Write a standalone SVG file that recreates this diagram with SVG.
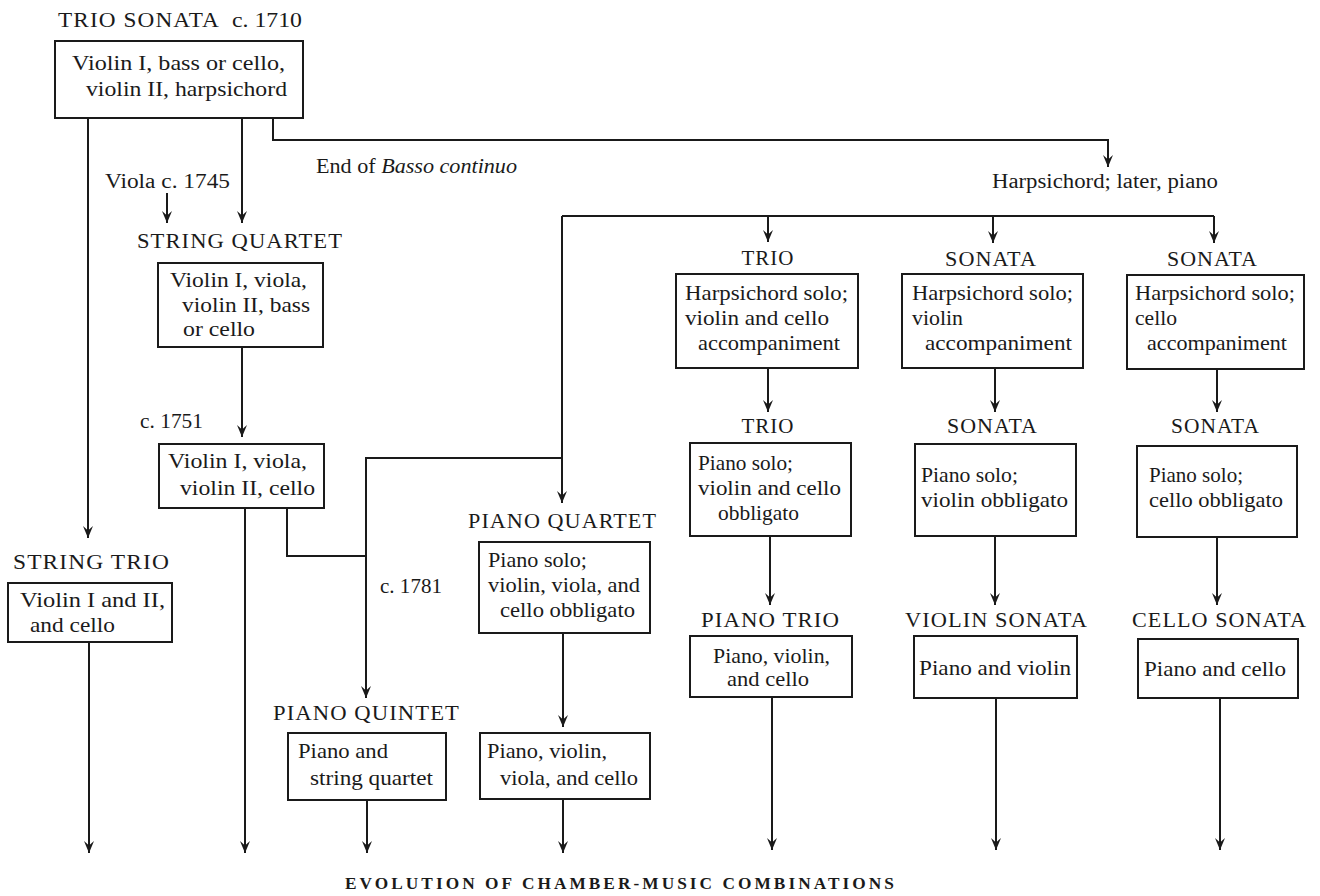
<svg xmlns="http://www.w3.org/2000/svg" width="1320" height="896" viewBox="0 0 1320 896">
<defs>
<marker id="arr" viewBox="0 0 13 11" refX="12" refY="5.5" markerWidth="13" markerHeight="11" markerUnits="userSpaceOnUse" orient="auto">
<path d="M0,0.5 L12,5.5 L0,10.5 L4.5,5.5 Z" fill="#1a1a1a"/>
</marker>
<style>
.bx{fill:#fff;stroke:#1a1a1a;stroke-width:2}
.ln{fill:none;stroke:#1a1a1a;stroke-width:2}
.ar{fill:none;stroke:#1a1a1a;stroke-width:2;marker-end:url(#arr)}
text{font-family:"Liberation Serif","Times New Roman",serif;fill:#1a1a1a}
.t{font-size:21px}
.h{font-size:21px;letter-spacing:1px}
.s{font-size:20px}
.ttl{font-size:17px;font-weight:bold;letter-spacing:3px}
</style>
</defs>
<rect width="1320" height="896" fill="#fff"/>

<g id="connectors">
<path class="ar" d="M88,118 V538"/>
<path class="ar" d="M242,118 V223"/>
<path class="ar" d="M167,193 V223"/>
<path class="ar" d="M273,118 V140 H1108 V167"/>
<path class="ln" d="M562,216 H1214"/>
<path class="ar" d="M768,216 V242"/>
<path class="ar" d="M993,216 V243"/>
<path class="ar" d="M1214,216 V243"/>
<path class="ar" d="M562,216 V503"/>
<path class="ar" d="M562,458 H366 V698"/>
<path class="ar" d="M242,347 V437"/>
<path class="ar" d="M245,508 V853"/>
<path class="ln" d="M287,508 V556 H366"/>
<path class="ar" d="M89,642 V853"/>
<path class="ar" d="M367,800 V853"/>
<path class="ar" d="M563,633 V727"/>
<path class="ar" d="M563,799 V853"/>
<path class="ar" d="M768,368 V412"/>
<path class="ar" d="M770,536 V605"/>
<path class="ar" d="M772,697 V850"/>
<path class="ar" d="M995,368 V412"/>
<path class="ar" d="M995,536 V605"/>
<path class="ar" d="M996,698 V850"/>
<path class="ar" d="M1217,370 V412"/>
<path class="ar" d="M1217,537 V605"/>
<path class="ar" d="M1220,698 V850"/>
</g>

<g id="labels">
<text class="s" x="105" y="188" textLength="125" lengthAdjust="spacingAndGlyphs">Viola c. 1745</text>
<text class="s" x="316" y="173" textLength="201" lengthAdjust="spacingAndGlyphs">End of <tspan font-style="italic">Basso continuo</tspan></text>
<text class="s" x="992" y="188" textLength="226" lengthAdjust="spacingAndGlyphs">Harpsichord; later, piano</text>
<text class="s" x="140" y="428" textLength="63" lengthAdjust="spacingAndGlyphs">c. 1751</text>
<text class="s" x="380" y="593" textLength="62" lengthAdjust="spacingAndGlyphs">c. 1781</text>
</g>

<g id="trio-sonata">
<text class="h" x="58" y="27" textLength="162" lengthAdjust="spacingAndGlyphs">TRIO SONATA</text>
<text class="s" x="232" y="27" textLength="70" lengthAdjust="spacingAndGlyphs">c. 1710</text>
<rect class="bx" x="55" y="41" width="248" height="77"/>
<text class="t" x="72" y="70" textLength="213" lengthAdjust="spacingAndGlyphs">Violin I, bass or cello,</text>
<text class="t" x="86" y="96" textLength="201" lengthAdjust="spacingAndGlyphs">violin II, harpsichord</text>
</g>

<g id="string-quartet">
<text class="h" x="137" y="248" textLength="206" lengthAdjust="spacingAndGlyphs">STRING QUARTET</text>
<rect class="bx" x="158" y="263" width="165" height="84"/>
<text class="t" x="170" y="287" textLength="137" lengthAdjust="spacingAndGlyphs">Violin I, viola,</text>
<text class="t" x="182" y="312" textLength="128" lengthAdjust="spacingAndGlyphs">violin II, bass</text>
<text class="t" x="183" y="336" textLength="72" lengthAdjust="spacingAndGlyphs">or cello</text>
</g>

<g id="string-quartet-1751">
<rect class="bx" x="159" y="444" width="165" height="64"/>
<text class="t" x="168" y="468" textLength="139" lengthAdjust="spacingAndGlyphs">Violin I, viola,</text>
<text class="t" x="180" y="495" textLength="135" lengthAdjust="spacingAndGlyphs">violin II, cello</text>
</g>

<g id="string-trio">
<text class="h" x="13" y="569" textLength="157" lengthAdjust="spacingAndGlyphs">STRING TRIO</text>
<rect class="bx" x="8" y="583" width="164" height="59"/>
<text class="t" x="20" y="607" textLength="145" lengthAdjust="spacingAndGlyphs">Violin I and II,</text>
<text class="t" x="30" y="632" textLength="85" lengthAdjust="spacingAndGlyphs">and cello</text>
</g>

<g id="piano-quintet">
<text class="h" x="273" y="720" textLength="187" lengthAdjust="spacingAndGlyphs">PIANO QUINTET</text>
<rect class="bx" x="288" y="733" width="158" height="67"/>
<text class="t" x="298" y="758" textLength="90" lengthAdjust="spacingAndGlyphs">Piano and</text>
<text class="t" x="310" y="785" textLength="123" lengthAdjust="spacingAndGlyphs">string quartet</text>
</g>

<g id="piano-quartet">
<text class="h" x="468" y="528" textLength="189" lengthAdjust="spacingAndGlyphs">PIANO QUARTET</text>
<rect class="bx" x="479" y="542" width="171" height="91"/>
<text class="t" x="488" y="567" textLength="99" lengthAdjust="spacingAndGlyphs">Piano solo;</text>
<text class="t" x="488" y="592" textLength="152" lengthAdjust="spacingAndGlyphs">violin, viola, and</text>
<text class="t" x="500" y="617" textLength="135" lengthAdjust="spacingAndGlyphs">cello obbligato</text>
</g>

<g id="piano-quartet-later">
<rect class="bx" x="480" y="733" width="170" height="66"/>
<text class="t" x="487" y="758" textLength="120" lengthAdjust="spacingAndGlyphs">Piano, violin,</text>
<text class="t" x="500" y="785" textLength="138" lengthAdjust="spacingAndGlyphs">viola, and cello</text>
</g>

<g id="trio-harpsichord">
<text class="h" x="768" y="265" text-anchor="middle">TRIO</text>
<rect class="bx" x="676" y="274" width="182" height="94"/>
<text class="t" x="685" y="300" textLength="163" lengthAdjust="spacingAndGlyphs">Harpsichord solo;</text>
<text class="t" x="685" y="325" textLength="144" lengthAdjust="spacingAndGlyphs">violin and cello</text>
<text class="t" x="698" y="350" textLength="142" lengthAdjust="spacingAndGlyphs">accompaniment</text>
</g>

<g id="trio-piano">
<text class="h" x="768" y="433" text-anchor="middle">TRIO</text>
<rect class="bx" x="690" y="443" width="161" height="93"/>
<text class="t" x="698" y="470" textLength="95" lengthAdjust="spacingAndGlyphs">Piano solo;</text>
<text class="t" x="698" y="495" textLength="143" lengthAdjust="spacingAndGlyphs">violin and cello</text>
<text class="t" x="718" y="520" textLength="81" lengthAdjust="spacingAndGlyphs">obbligato</text>
</g>

<g id="piano-trio">
<text class="h" x="701" y="627" textLength="139" lengthAdjust="spacingAndGlyphs">PIANO TRIO</text>
<rect class="bx" x="690" y="636" width="162" height="61"/>
<text class="t" x="713" y="663" textLength="117" lengthAdjust="spacingAndGlyphs">Piano, violin,</text>
<text class="t" x="727" y="686" textLength="82" lengthAdjust="spacingAndGlyphs">and cello</text>
</g>

<g id="sonata-violin-harpsichord">
<text class="h" x="945" y="266" textLength="92" lengthAdjust="spacingAndGlyphs">SONATA</text>
<rect class="bx" x="902" y="274" width="181" height="94"/>
<text class="t" x="912" y="300" textLength="161" lengthAdjust="spacingAndGlyphs">Harpsichord solo;</text>
<text class="t" x="912" y="325" textLength="51" lengthAdjust="spacingAndGlyphs">violin</text>
<text class="t" x="925" y="350" textLength="147" lengthAdjust="spacingAndGlyphs">accompaniment</text>
</g>

<g id="sonata-violin-piano">
<text class="h" x="947" y="433" textLength="91" lengthAdjust="spacingAndGlyphs">SONATA</text>
<rect class="bx" x="915" y="444" width="161" height="92"/>
<text class="t" x="921" y="482" textLength="97" lengthAdjust="spacingAndGlyphs">Piano solo;</text>
<text class="t" x="921" y="507" textLength="147" lengthAdjust="spacingAndGlyphs">violin obbligato</text>
</g>

<g id="violin-sonata">
<text class="h" x="905" y="627" textLength="183" lengthAdjust="spacingAndGlyphs">VIOLIN SONATA</text>
<rect class="bx" x="914" y="636" width="163" height="62"/>
<text class="t" x="919" y="675" textLength="152" lengthAdjust="spacingAndGlyphs">Piano and violin</text>
</g>

<g id="sonata-cello-harpsichord">
<text class="h" x="1167" y="266" textLength="91" lengthAdjust="spacingAndGlyphs">SONATA</text>
<rect class="bx" x="1127" y="275" width="177" height="94"/>
<text class="t" x="1135" y="300" textLength="160" lengthAdjust="spacingAndGlyphs">Harpsichord solo;</text>
<text class="t" x="1135" y="325" textLength="42" lengthAdjust="spacingAndGlyphs">cello</text>
<text class="t" x="1147" y="350" textLength="140" lengthAdjust="spacingAndGlyphs">accompaniment</text>
</g>

<g id="sonata-cello-piano">
<text class="h" x="1171" y="433" textLength="89" lengthAdjust="spacingAndGlyphs">SONATA</text>
<rect class="bx" x="1137" y="446" width="160" height="91"/>
<text class="t" x="1149" y="482" textLength="94" lengthAdjust="spacingAndGlyphs">Piano solo;</text>
<text class="t" x="1149" y="507" textLength="134" lengthAdjust="spacingAndGlyphs">cello obbligato</text>
</g>

<g id="cello-sonata">
<text class="h" x="1132" y="627" textLength="175" lengthAdjust="spacingAndGlyphs">CELLO SONATA</text>
<rect class="bx" x="1138" y="639" width="160" height="59"/>
<text class="t" x="1144" y="676" textLength="142" lengthAdjust="spacingAndGlyphs">Piano and cello</text>
</g>

<g id="title">
<text class="ttl" x="345" y="889" textLength="552" lengthAdjust="spacingAndGlyphs">EVOLUTION OF CHAMBER-MUSIC COMBINATIONS</text>
</g>
</svg>
